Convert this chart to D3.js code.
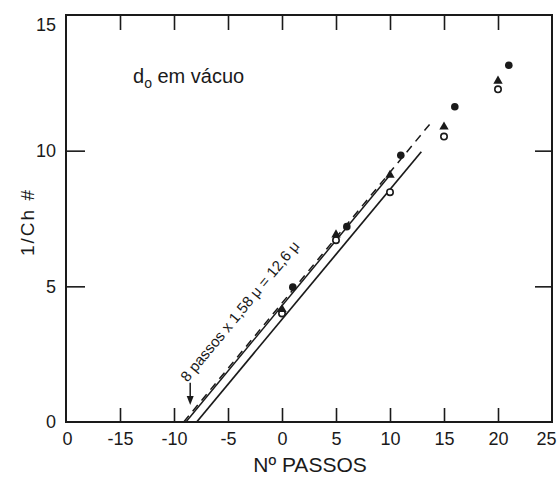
<!DOCTYPE html>
<html>
<head>
<meta charset="utf-8">
<script src="https://cdn.jsdelivr.net/npm/d3@7"></script>
<style>
  body { margin: 0; background: #fff; }
  text { font-family: "Liberation Sans", Arial, sans-serif; fill: #1a1a1a; }
</style>
</head>
<body>
<div id="chart"></div>
<script>
// tick values and their printed labels (the original prints "0" at -20)
const xTickValues = [-20, -15, -10, -5, 0, 5, 10, 15, 20, 25];
const xTickLabels = ["0", "-15", "-10", "-5", "0", "5", "10", "15", "20", "25"];
const yTickValues = [0, 5, 10, 15];

// measured points
const openPts   = [[0, 4.0], [5, 6.7], [10, 8.47], [15, 10.52], [20, 12.26]];
const halfPts   = [[0, 4.15], [5, 6.9], [10, 9.1], [15, 10.88], [20, 12.57]];
const filledPts = [[1, 4.97], [6, 7.2], [11, 9.83], [16, 11.62], [21, 13.15]];

// fitted lines
const dashedLine = [[-9.1, 0], [14, 11.13]];
const solidUpper = [[-8.9, 0], [10, 9.1]];
const solidLower = [[-7.9, 0], [12.9, 9.96]];

const W = 559, H = 484;
const margin = {top: 15, right: 7, bottom: 62, left: 66};
const w = W - margin.left - margin.right;
const h = H - margin.top - margin.bottom;
const ink = "#1a1a1a";

const svg = d3.select("#chart").append("svg")
    .attr("width", W)
    .attr("height", H);
const g = svg.append("g")
    .attr("transform", "translate(" + margin.left + "," + margin.top + ")");

const x = d3.scaleLinear().domain([-20, 25]).range([0, w]);
const y = d3.scaleLinear().domain([0, 15]).range([h, 0]);

// frame
g.append("rect")
    .attr("width", w).attr("height", h)
    .attr("fill", "none").attr("stroke", ink).attr("stroke-width", 2);

// bottom axis, inward ticks
const xAxis = d3.axisBottom(x)
    .tickValues(xTickValues)
    .tickFormat((d, i) => xTickLabels[i])
    .tickSize(-14)
    .tickPadding(10);
const gx = g.append("g").attr("transform", "translate(0," + h + ")").call(xAxis);

// top axis, ticks only
const gxt = g.append("g").call(d3.axisTop(x).tickValues(xTickValues).tickFormat("").tickSize(-15));

// left axis
const yAxis = d3.axisLeft(y).tickValues(yTickValues).tickSize(-19).tickPadding(10);
const gy = g.append("g").call(yAxis);

// right axis, ticks only
const gyr = g.append("g").attr("transform", "translate(" + w + ",0)")
    .call(d3.axisRight(y).tickValues(yTickValues).tickFormat("").tickSize(-17));

[gx, gxt, gy, gyr].forEach(a => {
    a.select(".domain").remove();
    a.selectAll(".tick line").attr("stroke", ink).attr("stroke-width", 1.6);
    a.selectAll(".tick text").attr("font-size", 18).attr("fill", ink)
        .style("font-family", "'Liberation Sans', Arial, sans-serif");
});
// no tick marks at the frame corners
gx.selectAll(".tick line").filter(d => d === -20 || d === 25).remove();
gxt.selectAll(".tick line").filter(d => d === -20 || d === 25).remove();
gy.selectAll(".tick line").filter(d => d === 0 || d === 15).remove();
gyr.selectAll(".tick line").filter(d => d === 0 || d === 15).remove();
gy.selectAll(".tick text").filter(d => d === 15).attr("dy", "0.85em");
gx.selectAll(".tick text").filter(d => d === 25).attr("text-anchor", "end").attr("dx", 4);
gx.selectAll(".tick text").filter(d => d === -20).attr("dx", 1);

// axis titles
svg.append("text")
    .attr("x", 310).attr("y", 472)
    .attr("text-anchor", "middle")
    .attr("font-size", 21)
    .text("Nº PASSOS");
svg.append("text")
    .attr("transform", "translate(34,222) rotate(-90)")
    .attr("text-anchor", "middle")
    .attr("font-size", 19)
    .attr("letter-spacing", 2)
    .text("1/Ch  #");

// label inside plot
const lab = g.append("text")
    .attr("x", 67).attr("y", 68)
    .attr("font-size", 20);
lab.append("tspan").text("d");
lab.append("tspan").attr("font-size", 14).attr("dy", 5).text("o");
lab.append("tspan").attr("dy", -5).text(" em vácuo");

// lines
const line = d3.line().x(d => x(d[0])).y(d => y(d[1]));
g.append("path").datum(dashedLine).attr("d", line)
    .attr("fill", "none").attr("stroke", ink).attr("stroke-width", 1.5)
    .attr("stroke-dasharray", "8,6");
g.append("path").datum(solidUpper).attr("d", line)
    .attr("fill", "none").attr("stroke", ink).attr("stroke-width", 1.5);
g.append("path").datum(solidLower).attr("d", line)
    .attr("fill", "none").attr("stroke", ink).attr("stroke-width", 1.7);

// points
g.selectAll(".open").data(openPts).enter().append("circle")
    .attr("cx", d => x(d[0])).attr("cy", d => y(d[1])).attr("r", 3.2)
    .attr("fill", "#fff").attr("stroke", ink).attr("stroke-width", 1.6);
g.selectAll(".half").data(halfPts).enter().append("path")
    .attr("transform", d => "translate(" + x(d[0]) + "," + y(d[1]) + ")")
    .attr("d", d3.symbol().type(d3.symbolTriangle).size(38))
    .attr("fill", ink);
g.selectAll(".filled").data(filledPts).enter().append("circle")
    .attr("cx", d => x(d[0])).attr("cy", d => y(d[1])).attr("r", 3.8)
    .attr("fill", ink);

// annotation along the line
const ang = Math.atan2(y(dashedLine[0][1]) - y(dashedLine[1][1]), x(dashedLine[1][0]) - x(dashedLine[0][0])) * 180 / Math.PI;
g.append("text")
    .attr("transform", "translate(" + x(-8.75) + "," + y(1.45) + ") rotate(" + (-ang) + ")")
    .attr("font-size", 15)
    .text("8 passos x 1,58 μ = 12,6 μ");

// arrow to intercept
g.append("line")
    .attr("x1", x(-8.5)).attr("x2", x(-8.5))
    .attr("y1", y(1.45)).attr("y2", y(0.85))
    .attr("stroke", ink).attr("stroke-width", 1.5);
g.append("path")
    .attr("transform", "translate(" + x(-8.5) + "," + y(0.63) + ")")
    .attr("d", "M0,0 L-3.5,-9 L3.5,-9 Z")
    .attr("fill", ink);
</script>
</body>
</html>
